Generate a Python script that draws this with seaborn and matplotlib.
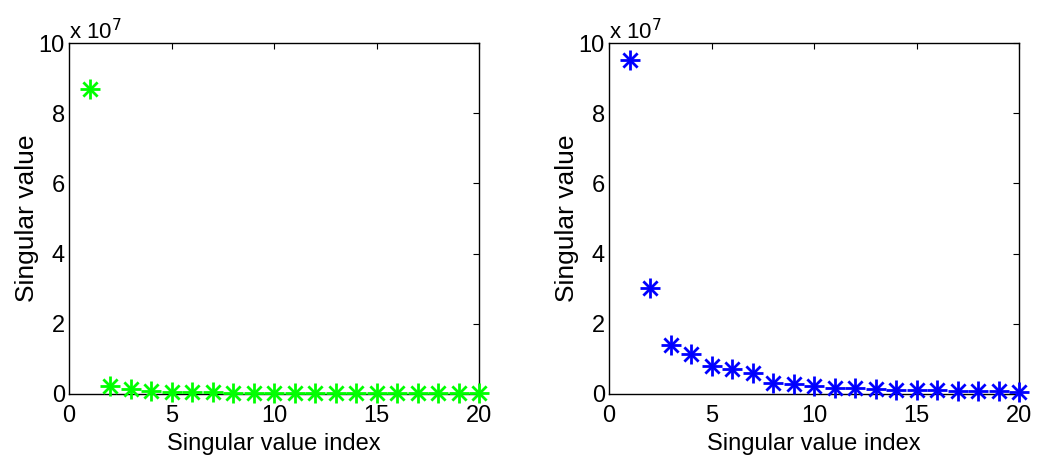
import matplotlib
matplotlib.use("Agg")
import matplotlib.pyplot as plt
from matplotlib.ticker import FuncFormatter
import seaborn as sns
import pandas as pd

# Singular values (in raw units) of the two matrices
index = list(range(1, 21))
sv_left = [8.69e7, 0.23e7, 0.13e7, 0.08e7, 0.06e7, 0.05e7, 0.05e7, 0.04e7, 0.04e7, 0.03e7,
           0.03e7, 0.03e7, 0.03e7, 0.03e7, 0.02e7, 0.02e7, 0.02e7, 0.02e7, 0.02e7, 0.02e7]
sv_right = [9.52e7, 3.02e7, 1.40e7, 1.13e7, 0.80e7, 0.70e7, 0.59e7, 0.32e7, 0.28e7, 0.24e7,
            0.18e7, 0.16e7, 0.13e7, 0.12e7, 0.11e7, 0.10e7, 0.09e7, 0.09e7, 0.08e7, 0.07e7]
x_ticks = [0, 5, 10, 15, 20]
y_ticks = [0, 2e7, 4e7, 6e7, 8e7, 10e7]

sns.set_theme(style="white")
plt.rcParams["font.family"] = ["Liberation Sans", "DejaVu Sans"]
plt.rcParams["text.color"] = "black"
plt.rcParams["axes.labelcolor"] = "black"

fig = plt.figure(figsize=(10.37, 4.59), dpi=100)
W, H = 1037, 459
boxes = [(69, 479), (609, 1019)]
top_px, bot_px = 43, 394
TICK_FS = 17
XLAB_FS = 17
YLAB_FS = 19

panels = [(sv_left, (0.0, 1.0, 0.0)), (sv_right, (0.0, 0.0, 1.0))]

for (x0, x1), (vals, color) in zip(boxes, panels):
    ax = fig.add_axes([x0 / W, 1 - bot_px / H, (x1 - x0) / W, (bot_px - top_px) / H])
    df = pd.DataFrame({"idx": index, "sv": vals})
    # MATLAB-style asterisk: a plus overlaid with a cross
    sns.scatterplot(data=df, x="idx", y="sv", ax=ax, marker="+", s=190,
                    color=color, linewidth=2.0, clip_on=False, zorder=3)
    sns.scatterplot(data=df, x="idx", y="sv", ax=ax, marker="x", s=105,
                    color=color, linewidth=2.0, clip_on=False, zorder=3)
    ax.set_xlim(0, 20)
    ax.set_ylim(0, 10e7)
    ax.set_xticks(x_ticks)
    ax.set_yticks(y_ticks)
    ax.yaxis.set_major_formatter(FuncFormatter(lambda v, p: f"{v / 1e7:g}"))
    ax.tick_params(direction="in", length=4, width=0.8, top=True, right=True,
                   labelsize=TICK_FS, colors="black")
    ax.tick_params(axis="x", pad=8)
    ax.tick_params(axis="y", pad=3)
    for sp in ax.spines.values():
        sp.set_visible(True)
        sp.set_color("black")
        sp.set_linewidth(1.0)
    ax.set_xlabel("Singular value index", fontsize=XLAB_FS, labelpad=4)
    ax.set_ylabel("Singular value", fontsize=YLAB_FS, labelpad=0)
    ax.text(0.0, 0.998, "x 10$^{7}$", transform=ax.transAxes, fontsize=TICK_FS - 1,
            ha="left", va="bottom")
    ax.set_facecolor("white")

fig.savefig("out.png", dpi=100, facecolor="white")
